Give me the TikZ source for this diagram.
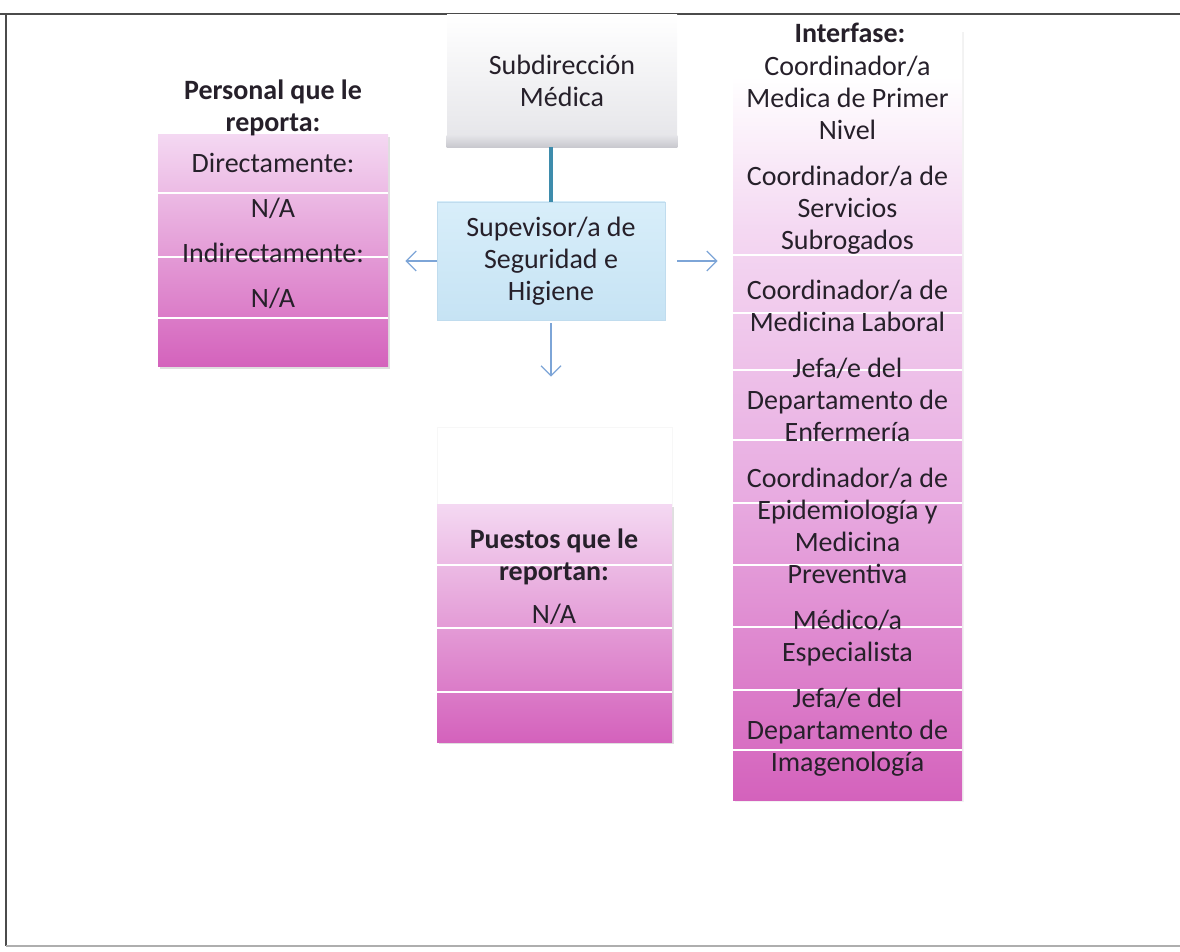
\documentclass[tikz,border=0pt]{standalone}
\usepackage{fontspec}
\setmainfont{Carlito}
\usetikzlibrary{arrows.meta,positioning,shadows}

\definecolor{pinkl}{RGB}{244,216,242}
\definecolor{pinkm}{RGB}{232,172,225}
\definecolor{magb}{RGB}{212,98,188}
\definecolor{bluetop}{RGB}{216,238,250}
\definecolor{bluebot}{RGB}{198,227,244}
\definecolor{blueedge}{RGB}{192,220,238}
\definecolor{grayl}{RGB}{228,228,232}
\definecolor{grayb}{RGB}{200,200,206}
\definecolor{tealline}{RGB}{62,140,172}
\definecolor{arrowblue}{RGB}{125,165,215}
\definecolor{framegray}{RGB}{75,75,75}
\definecolor{txt}{RGB}{38,32,42}

\pgfdeclareverticalshading{intshade}{100bp}{color(0bp)=(magb); color(25bp)=(magb);
  color(45bp)=(pinkm); color(62bp)=(pinkl); color(72bp)=(white); color(100bp)=(white)}

\begin{document}
\begin{tikzpicture}[
    x=0.5pt, y=-0.5pt,
    lbl/.style={font=\fontsize{14}{16}\selectfont, text=txt, align=center, inner sep=0pt},
    head/.style={lbl, font=\fontsize{14}{16}\selectfont\bfseries},
    item/.style={lbl, text height=10pt, text depth=3pt},
    band/.style={rectangle, inner sep=0pt, top color=pinkl, bottom color=magb,
                 drop shadow={shadow xshift=0.8pt, shadow yshift=-0.8pt, opacity=0.25}},
    sep/.style={white, line width=1.4pt},
    arrow/.style={-{Straight Barb[length=5pt,width=10pt]}, arrowblue, line width=0.6pt},
    frame/.style={framegray, line width=1.4pt}
]
\useasboundingbox (0,0) rectangle (1180,952);

%% ── Frame ────────────────────────────────────────────────────────
\draw[frame] (0,14) -- (1180,14);
\draw[frame] (6,14) -- (6,946);
\draw[frame, framegray!45] (6,946) -- (1180,946);

%% ── Centre boxes ─────────────────────────────────────────────────
\node[lbl, top color=white, bottom color=grayl, minimum width=115pt, minimum height=66pt]
    (sub) at (562,81) {Subdirección\\Médica};
\shade[top color=grayl, bottom color=grayb] ([yshift=6pt]sub.south west) rectangle (sub.south east);

\node[lbl, draw=blueedge, top color=bluetop, bottom color=bluebot,
      minimum width=114pt, minimum height=59pt]
    (sup) at (551,261) {Supevisor/a de\\Seguridad e\\Higiene};

%% ── Left: personal que le reporta ────────────────────────────────
\node[band, minimum width=115pt, minimum height=116pt] (perbox) at (273,251) {};
\foreach \y in {193,257,318}
    \draw[sep] (perbox.west |- 0,\y) -- (perbox.east |- 0,\y);
\node[head] (pertitle) at (273,108) {Personal que le\\reporta:};
\node[item] (perdir) at (273,166) {Directamente:};
\node[item, below=9pt of perdir] (perna1) {N/A};
\node[item, below=9pt of perna1] (perind) {Indirectamente:};
\node[item, below=9pt of perind] (perna2) {N/A};

%% ── Bottom: puestos que le reportan ──────────────────────────────
\node[rectangle, draw=black!3, fill=white, minimum width=117.5pt, minimum height=39pt]
    (puetop) at (554.5,466) {};
\node[band, minimum width=117.5pt, minimum height=118.5pt] (puebox) at (554.5,623.5) {};
\foreach \y in {565,628,692}
    \draw[sep] (puebox.west |- 0,\y) -- (puebox.east |- 0,\y);
\node[head] (puetitle) at (554,557) {Puestos que le\\reportan:};
\node[item] (puena) at (554,617) {N/A};

%% ── Right: interfase ─────────────────────────────────────────────
\node[rectangle, inner sep=0pt, shade, shading=intshade, minimum width=114.5pt, minimum height=385pt,
      drop shadow={shadow xshift=0.8pt, shadow yshift=-0.8pt, opacity=0.1}]
    (int) at (847.5,415) {};
\foreach \y in {255,313,370,440,503,565,627,690,750}
    \draw[sep] (int.west |- 0,\y) -- (int.east |- 0,\y);
\node[head] (inttitle) at (850,33) {Interfase:};
\node[lbl] (int1) at (847.5,97.5)  {Coordinador/a\\Medica de Primer\\Nivel};
\node[lbl] (int2) at (847.5,210)   {Coordinador/a de\\Servicios\\Subrogados};
\node[lbl] (int3) at (847.5,306)   {Coordinador/a de\\Medicina Laboral};
\node[lbl] (int4) at (847.5,400)   {Jefa/e del\\Departamento de\\Enfermería};
\node[lbl] (int5) at (847.5,525.5) {Coordinador/a de\\Epidemiología y\\Medicina\\Preventiva};
\node[lbl] (int6) at (847.5,638.5) {Médico/a\\Especialista};
\node[lbl] (int7) at (847.5,732.5) {Jefa/e del\\Departamento de\\Imagenología};

%% ── Connectors ───────────────────────────────────────────────────
\draw[tealline, line width=2pt] (sup.north |- sub.south) -- (sup.north);
\draw[arrow, shorten >=8.5pt] (sup.west) -- (sup.west -| perbox.east);
\draw[arrow, shorten <=6pt, shorten >=7.5pt] (sup.east) -- (sup.east -| int.west);
\draw[arrow, shorten <=1.5pt, shorten >=25pt] (sup.south) -- (sup.south |- puetop.north);
\end{tikzpicture}
\end{document}
